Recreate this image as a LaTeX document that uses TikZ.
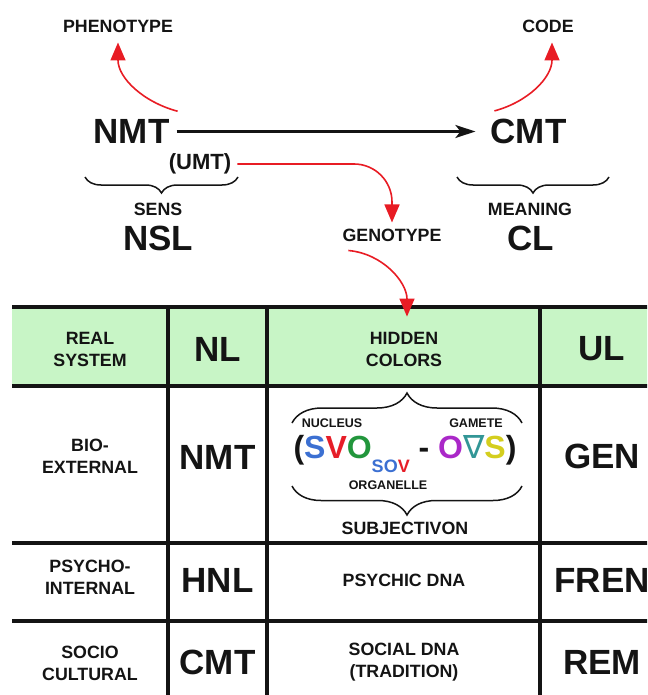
\documentclass[tikz,border=0pt]{standalone}
\usepackage{fontspec}
\setmainfont{Liberation Sans}
\newfontfamily\symfont{DejaVu Sans}
\usetikzlibrary{arrows.meta,decorations.pathreplacing}

\definecolor{hdrgreen}{RGB}{200,245,198}
\definecolor{arrred}{RGB}{232,28,36}
\definecolor{cblue}{RGB}{60,112,210}
\definecolor{cred}{RGB}{230,30,40}
\definecolor{cgreen}{RGB}{34,150,60}
\definecolor{cmag}{RGB}{170,40,200}
\definecolor{cteal}{RGB}{50,150,150}
\definecolor{cyell}{RGB}{212,206,30}
\definecolor{ink}{RGB}{20,20,20}

\begin{document}
\begin{tikzpicture}[x=1pt,y=-1pt,
  small/.style={font=\fontsize{17.8}{22}\selectfont\bfseries, align=center, inner sep=0pt, text=ink},
  big/.style={font=\fontsize{35}{40}\selectfont\bfseries, inner sep=0pt, text=ink},
  tiny/.style={font=\fontsize{12.5}{14}\selectfont\bfseries, inner sep=0pt, text=ink},
  redarrow/.style={draw=arrred, line width=1.6pt, -{Triangle[length=18pt,width=15pt]}},
  mainarrow/.style={draw=ink, line width=2.2pt, -{Stealth[length=20pt,width=13pt,inset=5pt]}},
  bracedec/.style={decorate, decoration={brace, amplitude=#1}, draw=ink, line width=1.5pt},
  gridline/.style={line width=3.2pt, draw=ink},
]
\useasboundingbox (0,0) rectangle (647,695);
\clip (0,0) rectangle (647,695);

% ---------- upper scheme ----------
\node[small] (pheno) at (118,26) {PHENOTYPE};
\node[small] (code) at (548,26) {CODE};
\node[big] (nmt) at (131.5,131.5) {NMT};
\node[big] (cmt) at (528.5,131.5) {CMT};
\node[font=\fontsize{22}{26}\selectfont\bfseries, inner sep=0pt, text=ink] (umt) at (200,164) {(UMT)};
\node[small] (sens) at (158,209) {SENS};
\node[big] (nsl) at (158,238) {NSL};
\node[small] (meaning) at (530,209) {MEANING};
\node[big] (cl) at (531,238) {CL};
\node[small] (geno) at (392,235) {GENOTYPE};

\draw[mainarrow] ([xshift=7pt]nmt.east) -- ([xshift=-15pt]cmt.west);
\draw[redarrow] ([xshift=8pt,yshift=8pt]nmt.north east) to[out=165,in=-90] ([yshift=-10pt]pheno.south);
\draw[redarrow] ([xshift=4pt,yshift=8pt]cmt.north west) to[out=15,in=-90] ([xshift=4pt,yshift=-10pt]code.south);
\draw[redarrow, rounded corners=38pt] ([xshift=6pt]umt.east) -| ([yshift=6pt]geno.north);

\draw[bracedec=16pt] (238,177) -- (85,177);
\draw[bracedec=16pt] (609,177) -- (457,177);

% ---------- table ----------
\fill[hdrgreen] (12,307) rectangle (660,386);
\foreach \yy in {307,386,543,621}
  \draw[gridline] (12,\yy) -- (660,\yy);
\foreach \xx in {168,267,540}
  \draw[gridline] (\xx,307) -- (\xx,705);

\node[small] (hreal) at (90,349) {REAL\\SYSTEM};
\node[big] (hnl) at (217.5,349) {NL};
\node[small] (hidden) at (404,349) {HIDDEN\\COLORS};
\node[big] (hul) at (602,349) {UL};

\node[small] (bio) at (90,456) {BIO-\\EXTERNAL};
\node[big] (nmtb) at (217.5,457) {NMT};
\node[big] (gen) at (602,456) {GEN};

\node[small] (psycho) at (90,577) {PSYCHO-\\INTERNAL};
\node[big] (hnlb) at (217.5,580) {HNL};
\node[small] (pdna) at (404,580) {PSYCHIC DNA};
\node[big] (fren) at (602,580) {FREN};

\node[small] (socio) at (90,663) {SOCIO\\CULTURAL};
\node[big] (cmtb) at (217.5,662) {CMT};
\node[small] (sdna) at (404,662) {SOCIAL DNA\\(TRADITION)};
\node[big] (rem) at (602,662) {REM};

% hidden colours cell
\node[tiny] (nucleus) at (332,423) {NUCLEUS};
\node[tiny] (gamete) at (476,423) {GAMETE};
\node[anchor=base, inner sep=0pt, text=ink,
      font=\fontsize{32}{36}\selectfont\bfseries] (formula) at (405,458)
  {(\textcolor{cblue}{S}\textcolor{cred}{V}\textcolor{cgreen}{O}\raisebox{-14pt}{\fontsize{18}{20}\selectfont\textcolor{cblue}{SO}\textcolor{cred}{V}}
   - \textcolor{cmag}{O}{\symfont\mdseries\textcolor{cteal}{∇}}\textcolor{cyell}{S})};
\node[tiny] (organelle) at (388,485) {ORGANELLE};
\node[small] (subj) at (405,528) {SUBJECTIVON};

\draw[bracedec=30pt] (292,423) -- (522,423);
\draw[bracedec=29pt] (522,486) -- (292,486);

\draw[redarrow] ([xshift=6pt,yshift=-9pt]geno.south west) to[out=-5,in=90] ([xshift=3pt,yshift=15pt]hidden.north);
\end{tikzpicture}
\end{document}
